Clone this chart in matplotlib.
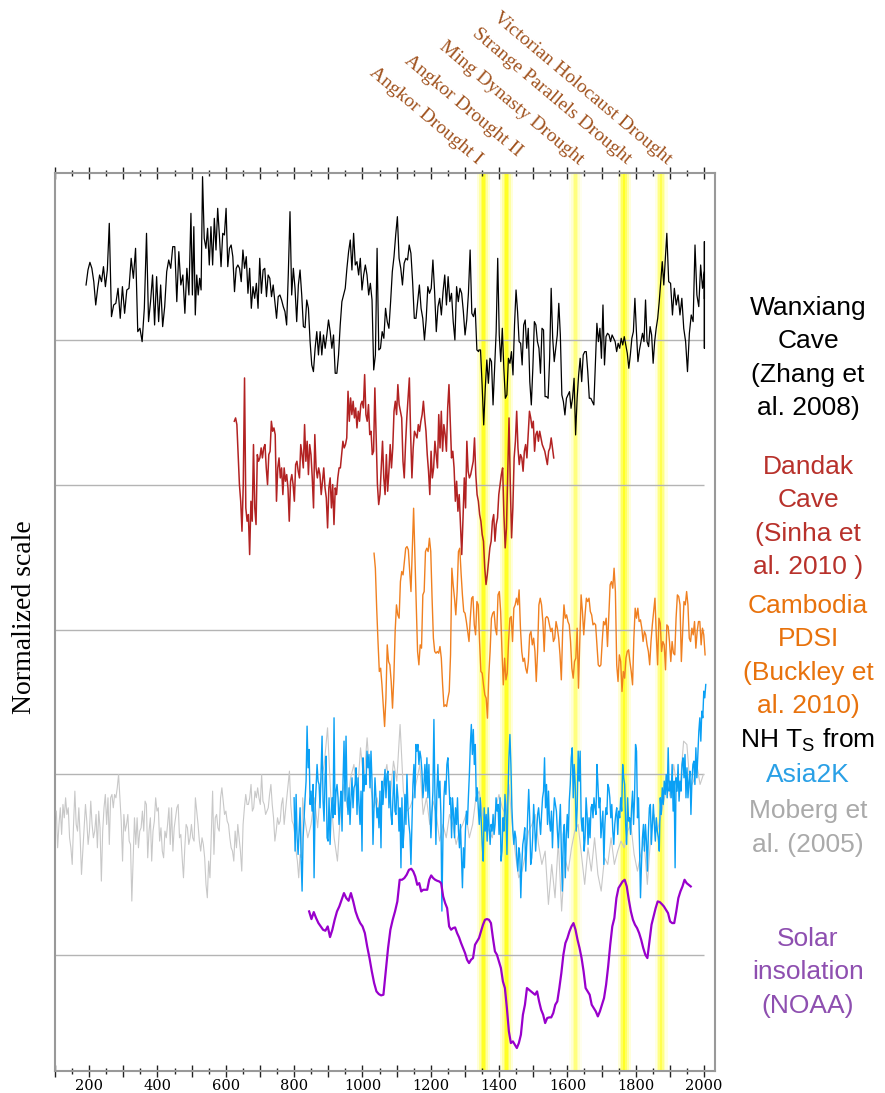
import numpy as np
import matplotlib
matplotlib.use('Agg')
import matplotlib.pyplot as plt
import matplotlib.transforms as mtransforms
from matplotlib.ticker import MultipleLocator, FuncFormatter

# --- Wanxiang Cave (Zhang et al. 2008), normalized ---
wanxiang_early = [
    1.65, 2.10, 2.33, 2.15, 1.75, 1.05, 1.55, 1.95, 1.75, 2.20,
    1.60, 2.10, 3.50, 0.70, 1.05, 1.10, 1.55, 0.65, 1.60, 0.80,
    1.50, 1.55, 2.45, 1.85, 2.75, 0.25, 0.35, -0.05, 0.95, 3.20,
    0.55, 1.15, 1.95, 0.45, 1.90, 0.55, 1.65, 0.40, 1.00, 2.05,
    2.40, 2.15, 2.80, 2.80, 1.15, 2.65, 1.65, 1.95, 0.80, 2.15,
    1.35, 3.80, 1.35, 3.40, 0.75, 1.95, 1.35, 1.85, 1.50, 4.90,
    3.05, 2.75, 3.35, 2.25, 3.40, 2.25, 3.65, 2.70, 3.95, 3.15,
    2.20, 3.20, 3.15, 3.95, 2.20, 2.75, 2.85, 2.50, 1.45, 2.15,
    2.25, 2.15, 1.75, 2.70, 2.15, 2.50, 1.40, 2.15, 0.95, 1.60,
    1.25, 1.70, 0.95, 2.45, 1.40, 2.10, 2.15, 1.30, 1.95, 1.85,
    1.30, 1.65, 1.15, 0.65, 1.30, 1.35, 1.20, 1.00, 0.85, 0.45,
    2.00, 3.85, 1.35, 2.15, 1.55, 0.55, 1.65, 2.10, 1.35, 0.40,
    0.37, 1.20, 0.95, -0.05, -0.75, -0.95, -0.25, 0.25, -0.45, 0.25,
    -0.45, 0.15, -0.25, 0.15, 0.60, 0.25, -0.25, 0.15, -1.00, -1.00,
    -0.45, 0.45, 1.15, 1.35, 1.55, 2.15, 2.65, 3.00, 2.10, 3.20,
    2.25, 2.35, 1.95, 2.45, 1.50, 1.95, 2.25, 1.95, 1.35, 1.70,
    1.20, -0.90, -0.45, 2.75, -0.30, -0.25, 0.25, 0.05, 0.95, 0.55,
    0.35, 1.15, 2.05, 2.50, 3.15, 3.70, 2.45, 2.15, 1.65, 2.30,
    2.45, 2.40, 2.85, 2.60, 1.75, 0.65, 0.65, 1.15, 1.65, 0.95,
    0.65, 0.00, 0.60, 1.60, 1.40, 1.55, 2.40, 1.45, 0.25, 1.00,
    1.25, 0.75, 1.45, 1.95, 1.05, 1.90, 1.15, 1.40, 0.55, 0.00,
    1.60, 1.15, 1.55, 1.40, 0.85, 0.15, 0.60, 1.40, 2.70, 0.80,
    0.70, 0.95, -0.30, -0.35,
]
# sample index -> year tie points
wanxiang_early_ties = ([0, 12, 29, 51, 59, 111, 161, 223],
                       [191, 259, 368, 498, 532, 788, 1033, 1340])
wanxiang_late = [
    -0.30, -0.30, -1.35, -2.55, -1.45, -0.60, -1.30, -0.55, -0.65, -1.95,
    -0.85, 0.25, 2.45, 0.15, -0.65, 0.35, -0.85, -1.75, -1.65, -0.55,
    -0.70, -0.35, -1.05, 0.45, 1.50, 0.85, -0.05, -0.10, -0.75, 0.45,
    0.60, -0.25, 0.35, -1.25, -1.95, -0.85, 0.55, 0.45, -0.05, -0.25,
    -1.00, 0.35, 0.30, -1.70, -1.70, -1.75, -0.55, 1.55, 0.05, -0.65,
    -0.25, 0.15, 1.10, 0.15, -1.65, -1.85, -2.25, -1.75, -1.65, -1.55,
    -2.05, -1.75, -1.15, -2.85, -1.75, -1.05, -0.55, -1.25, -0.45, -0.35,
    -0.35, -0.95, -1.75, -1.75, -1.85, -1.95, -0.75, 0.50, -0.05, 0.35,
    -0.55, 1.05, -0.75, 0.10, 0.20, 0.15, -0.05, 0.15, 0.05, -0.05,
    -0.35, -0.10, -0.25, 0.05, -0.15, 0.10, -0.15, -0.40, -0.85, -0.45,
    0.05, 0.25, 1.25, 0.25, -0.65, -0.30, -0.05, 0.20, -0.05, 1.20,
    -0.05, -0.20, 0.40, 0.15, -0.70, -0.05, 0.35, 0.65, 1.15, 1.75,
    2.35, 1.65, 2.40, 3.20, 1.75, 1.70, 0.75, 1.55, 1.05, 1.35,
    0.75, 1.25, 0.35, -0.05, -0.95, 0.20, 0.75, 0.55, 2.85, 1.35,
    1.00, 2.25, 1.55, 2.05, 0.75, 1.90, 2.25, 2.25, 2.95, 0.55,
    0.45, 0.55, -0.25, 1.25,
]
wanxiang_late_ties = ([0, 3, 12, 63, 123, 143],
                      [1341, 1355, 1396, 1624, 1891, 2001])

# --- Dandak Cave (Sinha et al. 2010), 625-1560 ---
dandak = [
    1.9, 2.0, 1.8, 0.9, 0.0, -0.5, -1.4, 0.0, 3.2, -0.7,
    -1.1, -0.9, -2.1, -0.5, -1.1, 1.2, -0.7, -1.2, 0.9, 0.7,
    0.8, 1.1, 0.8, 1.1, 1.2, 0.5, 0.0, 0.9, 1.0, 1.9,
    1.6, 1.7, 1.5, -0.5, 0.5, 0.8, 0.2, 0.5, -0.3, 0.5,
    0.1, 0.3, -0.1, -1.1, 0.1, 0.3, 0.0, -0.5, 0.6, 0.7,
    0.4, 0.2, 1.2, 0.9, 0.5, 1.8, 0.7, 1.3, 0.3, 1.2,
    0.9, 0.2, -0.7, 1.5, 0.5, 0.2, 0.5, 0.3, -0.3, 0.1,
    0.5, -0.1, -0.4, -1.3, -0.1, 0.2, -0.7, 0.0, -1.2, -0.1,
    -0.3, 0.2, 0.5, 0.5, 0.9, 1.3, 1.1, 1.2, 1.4, 2.8,
    1.9, 2.6, 2.1, 2.5, 2.0, 2.3, 1.7, 2.2, 1.9, 2.4,
    2.5, 2.3, 3.3, 2.1, 1.9, 2.4, 1.5, 1.6, 0.9, 1.0,
    2.9, 1.4, 0.0, -0.6, -0.3, 0.5, 1.3, 0.2, -0.3, 0.9,
    -0.2, 0.4, 1.2, 0.5, 1.1, 2.2, 2.5, 2.1, 3.0, 2.4,
    2.2, 2.0, 0.7, 0.2, 1.2, 2.0, 2.6, 3.2, 1.5, 0.2,
    1.1, 1.6, 1.5, 1.4, 1.8, 1.6, 1.9, 2.1, 2.5, 2.0,
    1.6, 0.9, 0.4, -0.3, 1.0, 0.2, 0.5, 1.3, 0.9, 0.5,
    2.1, 1.1, 2.2, 1.0, 1.8, 1.5, 1.0, 2.3, 3.0, 1.9,
    0.8, 1.0, 0.5, -0.5, 0.1, -0.8, -0.3, -1.2, -2.1, -1.0,
    0.2, -0.7, 1.3, 0.4, 0.2, 0.3, 0.5, 0.7, 1.4, 0.3,
    -0.3, -0.5, -0.9, -1.1, -1.5, -1.7, -2.5, -3.0, -2.7, -2.3,
    -1.9, -1.7, -1.1, -0.9, -1.7, -1.2, -1.0, -0.3, 0.0, 0.3,
    0.5, -0.9, -1.9, -1.3, 0.4, 2.0, 0.0, -1.6, -0.7, 0.8,
    1.3, 2.2, 1.1, 0.6, 0.9, 0.8, 0.4, 1.0, 1.2, 0.8,
    1.5, 2.2, 2.0, 1.7, 1.9, 1.0, 1.5, 1.6, 1.3, 1.6,
    1.4, 1.2, 1.1, 1.0, 0.8, 0.6, 1.0, 1.1, 1.4, 1.1,
    0.8,
]

# --- Cambodia PDSI (Buckley et al. 2010), 1034-2003 ---
cambodia = [
    2.3, 1.85, 0.65, -0.35, -1.25, -1.15, -1.65, -2.25, -2.9, -2.05,
    -0.45, -0.95, -1.05, -1.55, -2.35, -1.45, -0.05, 0.75, 0.45, 0.35,
    1.45, 1.75, 1.65, 2.05, 2.45, 2.5, 2.4, 1.75, 1.15, 2.45,
    3.65, 2.15, 0.75, -0.65, -1.05, -0.45, -0.55, 1.05, 1.15, 2.35,
    2.45, 2.35, 2.75, 2.35, 0.95, -0.25, -0.65, -0.7, -0.65, -0.7,
    -0.5, -0.85, -1.65, -2.3, -2.25, -2.3, -2.05, -1.85, -0.75, 1.85,
    1.35, 0.95, 0.45, 1.15, 2.35, 2.45, 1.7, 1.05, 0.55, 0.5,
    0.25, -0.05, -0.35, 0.35, 0.95, 1.0, 0.15, -0.15, 0.85, 0.75,
    -0.35, -1.25, -1.3, -1.65, -1.95, -2.05, -2.65, -1.35, -0.65, 0.35,
    0.5, 0.55, 0.05, -0.15, 1.05, 1.15, 0.55, -0.65, -1.65, -0.85,
    -1.5, -1.3, -0.35, 0.35, 0.4, -0.35, 0.65, 0.75, 0.95, 0.75,
    1.2, 0.05, -0.65, -0.95, -0.85, -1.15, -1.3, -0.95, -0.15, -0.05,
    -0.45, -0.25, -0.65, -1.55, -0.65, 0.75, 0.95, 0.75, 0.25, -0.65,
    0.35, 0.4, 0.35, 0.15, -0.05, 0.05, -0.35, -0.25, 0.25, 0.05,
    -0.25, -0.75, -1.5, -0.05, 0.75, 0.35, 0.45, 0.25, 0.15, -0.35,
    -1.15, -1.45, -0.95, -0.85, 0.05, -1.75, -0.35, 1.05, 0.55, -0.15,
    0.45, 0.95, 0.85, 0.95, 0.55, 0.45, 0.15, 0.2, 0.15, -0.45,
    -1.05, -1.1, -1.05, -0.35, 0.25, 0.15, 0.35, -0.5, 0.45, 1.35,
    1.45, 1.25, 1.85, 1.15, -1.05, -1.55, -0.75, -0.95, -1.85, -1.25,
    -1.45, -0.85, -0.65, -0.6, -0.95, -1.25, -1.65, -0.25, 0.65, 0.35,
    0.65, 0.25, 0.3, 0.05, -0.35, -0.05, -0.15, -0.45, -0.65, -1.05,
    -0.35, 0.15, 0.55, 0.95, -0.15, -1.05, 0.35, 0.2, -0.65, -0.35,
    -0.45, -1.2, 0.15, 0.1, -0.35, -0.95, -0.35, -0.7, -0.75, 0.35,
    1.05, 1.0, 0.75, -0.95, -0.05, 0.85, 0.75, 1.15, 0.75, -0.25,
    -0.35, 0.05, -0.15, 0.25, -0.55, -0.05, 0.25, 0.25, -0.45, 0.05,
    -0.15, -0.75,
]

# --- NH temperature, Asia2K ---
asia2k_early = [
    -0.7, -2.3, -0.6, -1.9, -2.4, -1.7, -1.0, -2.5, -3.5, -1.9,
    -1.3, -0.7, -0.2, 1.45, 0.2, 0.75, -0.9, -0.5, -1.1, -0.3,
    -3.1, -1.0, -0.4, 0.3, -0.2, -0.3, -1.0, 0.1, 1.15, -0.8,
    -1.4, -0.1, 0.55, -1.9, -2.0, -0.7, -2.1, -1.2, -0.7, -1.3,
    1.7, -1.2, -0.5, -0.3, -0.7, -1.5, -0.9, -0.5, -1.7, -0.2,
    1.0, -0.8, 1.15, -0.6, -1.2, -0.4, -1.5, -0.7, -0.1, -1.0,
    -0.4, -0.3, 0.2, -1.2, -0.1, -0.9, -1.5, -0.5, -2.3, 0.5,
    -0.5, 0.0, -0.3, 0.7, 0.2, 0.6, -0.4, 0.7, -0.2, -2.1,
    -1.0, -0.1, -0.7, -1.3, -1.0, -1.6, -0.5, -2.2, -0.2, -0.9,
    -0.4, 0.15, -0.7, 0.0, 0.1, -1.0, -0.2, -1.2, -1.5, -0.7,
    0.1, -1.1, -1.2, -0.3, -0.7, -1.7, -1.0, -2.8, -0.7, -2.2,
    -1.7, -0.6, -1.5, 0.0, -1.0, -1.5, -1.8, -2.7, -1.5, -0.3,
    0.3, -0.7, 0.9, 0.7, 0.9, 0.3, 0.7, 0.5, 0.1, -0.7,
    -0.3, 0.3, -0.5, 0.5, -0.7, 0.3, -1.0, -1.9, -1.2, -0.5,
    1.65, -0.6, -2.1, -0.5, 0.3, -0.7, -0.2, -1.2, -4.1, -2.0,
    -0.7, -0.2, -0.6, 0.3, 0.5, -0.2, -0.9,
]
asia2k_late = [
    -0.7, -1.9, -0.7, -1.2, -1.9, -1.0, -1.5, -0.7, -1.7, -2.2,
    -1.5, -2.5, -3.4, -2.2, -2.8, -1.7, -1.1, -1.5, -0.7, 0.0,
    0.9, 1.5, 0.6, 1.35, 0.3, 0.9, -0.8, -0.4, -1.0, -1.5,
    -0.7, -1.4, -2.1, -2.6, -1.0, -1.7, -1.2, -2.0, -1.0, -1.6,
    -2.1, -1.5, -1.7, -1.2, -1.8, -1.5, -0.7, -1.1, -0.9, -1.8,
    -0.7, -2.6, -2.3, -1.3, -1.7, -0.6, -1.1, -2.4, -0.7, 0.5,
    1.2, 0.3, -1.0, -1.7, -2.1, -1.7, -1.9, -2.5, -2.9, -2.2,
    -2.4, -3.7, -2.7, -2.1, -1.9, -1.6, -2.9, -2.1, -1.2, -0.45,
    -1.3, -2.7, -2.5, -1.9, -0.9, -1.5, -2.3, -1.7, -1.2, -1.0,
    -1.4, -1.8, -1.2, -0.7, -0.5, 0.5, -1.0, -0.3, -1.5, -0.5,
    -1.4, -1.7, -1.1, -2.2, -1.3, -0.7, -0.9, -1.1, -1.7, -2.2,
    -1.5, -0.9, -2.3, -3.5, -1.8, -1.5, -3.1, -1.8, -1.2, -1.9,
    -0.8, -0.3, 0.5, 0.8, -0.7, 0.3, -0.3, -1.7, -1.0, 0.7,
    -0.2, 0.7, -1.3, -1.7, -1.3, -2.3, -1.9, -0.7, -1.2, -2.1,
    -1.3, -1.9, -1.0, -0.9, -1.3, -0.7, -1.0, -1.2, 0.3, -0.3,
    -1.0, -0.7, -1.9, -1.5, -1.1, -2.7, -1.5, -1.0, -1.2, -0.3,
    -0.4, -0.7, -1.3, -0.9, -1.7, -2.1, -1.5, -1.2, -1.0, -1.8,
    -1.1, -1.3, -0.7, -1.1, 0.3, -0.1, -0.3, -1.5, -2.1, -0.7,
    -1.4, -1.3, -1.8, -1.0, -0.5, -1.5, -0.7, 0.9, 0.7, -1.3,
    -0.7, -2.1, -3.7, -2.7, -1.9, -1.5, -2.3, -1.5, -2.0, -2.9,
    -1.7, -1.0, -0.9, -2.1, -1.5, -0.9, -1.5, -2.0, -1.3, -1.7,
    -1.9, -2.3, -0.7, -1.2, -0.4, -0.9, -0.2, -0.6, 0.0, -0.7,
    0.8, -0.5, -0.2, -0.7, 0.3, -1.1, -0.2, -2.8, -0.1, -0.5,
    0.3, -0.8, -0.2, -0.5, 0.3, 0.5, -0.1, 0.6, -0.7, 0.2,
    -0.7, -0.2, 0.1, -1.2, -0.2, 0.3, 0.4, -0.3, 0.8, -0.1,
    0.6, 1.3, 1.7, 1.0, 1.9, 1.7, 2.5, 2.3, 2.7,
]

# --- Moberg et al. (2005) ---
moberg_early = [
    -1.1, -2.2, -1.5, -1.0, -1.8, -0.9, -1.3, -0.7, -1.2, -1.0,
    -1.9, -2.2, -2.7, -1.5, -0.5, -1.5, -1.7, -1.0, -1.9, -3.0,
    -2.3, -1.6, -0.9, -1.4, -2.1, -1.7, -0.8, -1.5, -1.9, -1.7,
    -1.2, -2.2, -1.1, -1.6, -3.2, -1.7, -1.0, -0.6, -1.5, -0.7,
    -2.1, -0.7, -0.6, -1.0, -0.6, -0.7, -0.4, 0.0, -0.7, -1.4,
    -2.6, -1.2, -1.7, -1.5, -1.2, -2.0, -2.1, -3.8, -2.5, -1.3,
    -2.1, -1.3, -2.2, -1.7, -1.6, -1.1, -1.7, -0.8, -0.9, -2.5,
    -1.7, -1.3, -2.6, -1.7, -1.4, -0.7, -1.1, -1.0, -2.0, -1.6,
    -2.3, -2.5, -1.7, -1.9, -1.5, -1.0, -2.1, -1.0, -2.3, -1.6,
    -1.3, -1.0, -0.9, -1.9, -1.8, -2.5, -3.1, -2.2, -1.5, -1.6,
    -2.1, -1.9, -1.5, -1.9, -2.0, -0.7, -1.1, -1.5, -2.0, -2.3,
    -1.9, -2.1, -2.5, -3.3, -3.7, -2.6, -3.1, -1.8, -0.5, -2.4,
    -1.3, -1.2, -1.6, -1.7, -0.7, -0.4, -0.8, -1.2, -1.1, -1.4,
    -1.5, -1.9, -2.2, -2.3, -2.6, -1.7, -2.2, -1.5, -1.9, -2.3,
    -2.9, -1.5, -1.0, -0.6, -0.9, -0.9, -0.7, -0.3, -1.1, -1.0,
    -0.5, -0.7, -0.4, -0.7, -0.9, 0.0, -0.8, -0.9, -1.2, -1.1,
    -1.0, -0.6, -0.3, -0.9, -1.3, -2.0, -1.7, -1.3, -1.5, -1.4,
    -0.9, -0.7, -1.5, -1.1, -0.7, -0.3, 0.1, -0.9, -1.4, -1.5,
    -1.8, -2.3, -2.6, -3.1, -2.4, -2.5, -0.7, -1.2,
]
moberg_late = [
    -1.9, -1.5, -0.7, -1.6, -0.2, 0.3, 1.4, -0.7, -1.9, -2.6,
    -1.0, -0.3, -1.0, -0.1, 0.3, -0.7, 0.8, -0.2, 1.1, -0.3,
    -1.0, -0.7, -1.3, -0.2, 0.3, -0.7, 0.4, -0.2, 1.5, -0.5,
    -1.1, -1.0, -0.7, -0.2, 0.3, -1.2, -0.7, -1.5, -0.8, -1.2,
    -2.0, -1.5, -1.9, -1.2,
    -1.5, -2.1, -1.7, -1.5, -1.2, -1.9, -1.5, -0.7, -0.5, -1.2,
    -1.5, -1.7, -1.9, -1.0, -0.6, -1.0, -1.2, -0.3, -1.5, -2.4,
    -3.1, -2.9, -2.4, -1.7, -1.5, -1.2, -2.1, -2.7, -2.3, -3.9,
    -2.7, -3.7, -2.0, -4.1, -2.5, -2.9, -2.2, -1.7, -1.5, -2.4,
    -3.3, -2.2, -2.9, -1.9, -3.0, -3.5, -2.5, -2.7, -1.9, -2.7,
    -2.3, -2.0, -2.2, -1.7, -1.5, -2.4, -2.9, -2.4, -2.0, -3.3,
    -1.9, -1.2, -1.7, -1.3, -0.8, -0.3, -0.7, 0.3, -0.4, -0.3,
    1.0, 0.9, -0.4, -0.2, 0.3, -0.3, 0.0,
]

# --- Solar insolation (NOAA) ---
solar = [
    1.32, 1.09, 1.30, 1.12, 0.97, 0.87, 0.77, 0.74, 0.87, 0.55,
    0.77, 1.07, 1.32, 1.47, 1.67, 1.87, 1.72, 1.64, 1.87, 1.62,
    1.32, 1.12, 0.97, 0.87, 0.67, 0.27, -0.08, -0.48, -0.83, -1.08,
    -1.16, -1.20, -1.18, -0.48, 0.22, 0.77, 1.07, 1.32, 1.62, 2.27,
    2.27, 2.32, 2.42, 2.57, 2.60, 2.52, 2.37, 2.12, 2.17, 1.92,
    1.97, 1.97, 1.97, 2.27, 2.40, 2.32, 2.27, 2.24, 2.22, 2.17,
    1.77, 1.57, 1.42, 0.87, 0.77, 0.82, 0.84, 0.67, 0.54, 0.37,
    0.22, 0.07, -0.13, -0.23, -0.13, -0.08, 0.32, 0.42, 0.52, 0.72,
    0.92, 1.07, 1.09, 1.07, 0.97, 0.52, 0.12, 0.02, -0.18, -0.38,
    -0.78, -0.98, -1.58, -2.28, -2.63, -2.58, -2.68, -2.78, -2.63, -2.38,
    -1.78, -1.48, -0.98, -1.03, -1.08, -1.13, -1.18, -1.08, -1.38, -1.63,
    -1.78, -2.03, -1.88, -1.86, -1.86, -1.73, -1.48, -1.38, -0.98, -0.53,
    0.02, 0.37, 0.52, 0.72, 0.87, 0.97, 0.77, 0.47, 0.22, -0.08,
    -0.48, -0.98, -1.08, -1.18, -1.48, -1.58, -1.68, -1.83, -1.68, -1.48,
    -1.28, -0.88, -0.33, 0.32, 0.87, 1.12, 1.72, 2.02, 2.12, 2.22,
    2.27, 2.07, 1.67, 1.32, 1.07, 0.92, 0.82, 0.67, 0.47, 0.22,
    0.02, -0.08, 0.42, 0.92, 1.17, 1.42, 1.62, 1.60, 1.54, 1.47,
    1.37, 1.27, 1.02, 0.97, 0.97, 1.32, 1.72, 1.92, 2.07, 2.27,
    2.17, 2.12, 2.07,
]
solar_ties = ([0, 44, 97, 135, 182], [844, 1143, 1452, 1677, 1961])

drought_years = [1354, 1422, 1624, 1766, 1874]
drought_names = ['Angkor Drought I', 'Angkor Drought II', 'Ming Dynasty Drought',
                 'Strange Parallels Drought', 'Victorian Holocaust Drought']


def tied_years(n, ties):
    return np.interp(np.arange(n), ties[0], ties[1])


# layout: where each record sits on the stacked scale
off_wan, off_dan, off_cam, off_asia, off_sol = 21.94, 17.60, 13.24, 8.90, 3.47

fig = plt.figure(figsize=(8.85, 10.93), dpi=100)
ax = fig.add_axes([0.0621, 0.0201, 0.7458, 0.8216])
ax.set_xlim(100, 2032)
ax.set_ylim(0, 26.95)

# drought bands (soft yellow glow)
band_strength = [1.0, 1.0, 0.45, 1.0, 0.7]
for c, s in zip(drought_years, band_strength):
    for half, a in [(19, 0.15), (13, 0.25), (8, 0.4), (4, 0.6)]:
        ax.axvspan(c - half, c + half, color='#ffff00', alpha=a * s, lw=0, zorder=1)

ax.hlines([off_wan, off_dan, off_cam, off_asia, off_sol], 100, 2000,
          color='#b4b4b4', lw=1, zorder=2)

wan_years = np.concatenate([tied_years(len(wanxiang_early), wanxiang_early_ties),
                            tied_years(len(wanxiang_late), wanxiang_late_ties)])
wan = np.array(wanxiang_early + wanxiang_late)
ax.plot(wan_years, wan + off_wan, color='black', lw=0.9, zorder=3)

ax.plot(np.linspace(625, 1560, len(dandak)), np.array(dandak) + off_dan,
        color='#b22222', lw=1.1, zorder=3)

ax.plot(np.linspace(1034, 2003, len(cambodia)), np.array(cambodia) + off_cam,
        color='#f08020', lw=1.0, zorder=3)

mob_years = np.concatenate([np.linspace(104, 829, len(moberg_early)),
                            np.linspace(840, 1998, len(moberg_late))])
mob = np.array(moberg_early + moberg_late)
ax.plot(mob_years, mob + off_asia, color='#c8c8c8', lw=0.8, zorder=3)

asia_years = np.concatenate([np.linspace(800, 1256, len(asia2k_early)),
                             np.linspace(1258, 2005, len(asia2k_late))])
asia = np.array(asia2k_early + asia2k_late)
ax.plot(asia_years, asia + off_asia, color='#0aa0f5', lw=1.0, zorder=4)

ax.plot(tied_years(len(solar), solar_ties), np.array(solar) + off_sol,
        color='#9900cc', lw=1.6, zorder=4)

# axes styling
for sp in ax.spines.values():
    sp.set_color('#999999')
    sp.set_linewidth(1.5)
ax.set_yticks([])
ax.xaxis.set_major_locator(MultipleLocator(100))
ax.xaxis.set_minor_locator(MultipleLocator(50))
ax.xaxis.set_major_formatter(FuncFormatter(lambda v, p: '%d' % v if int(round(v)) % 200 == 0 else ''))
ax.tick_params(which='both', direction='inout', top=True, bottom=True, color='#222222', width=1)
ax.tick_params(which='major', length=9, pad=1, labelsize=10.5)
ax.tick_params(which='minor', length=5)
for lab in ax.get_xticklabels():
    lab.set_family('DejaVu Serif')

# drought labels above the plot
trans = mtransforms.blended_transform_factory(ax.transData, ax.transAxes)
label_x = [1336, 1452, 1633, 1773, 1890]
label_y = [1.009, 1.018, 1.009, 1.009, 1.009]
for name, lx, ly in zip(drought_names, label_x, label_y):
    ax.text(lx, ly, name, transform=trans, rotation=-40, rotation_mode='anchor',
            ha='right', va='baseline', fontsize=14, family='Liberation Serif',
            color='#a0521e', clip_on=False)

fig.text(25 / 885, 0.4355, 'Normalized scale', rotation=90, ha='center', va='center',
         fontsize=20, family='Liberation Serif')

# right-hand legend text
lx = 0.913
kw = dict(ha='center', va='center', fontsize=19, family='Liberation Sans', linespacing=1.5)
fig.text(lx, 0.6725, 'Wanxiang\nCave\n(Zhang et\nal. 2008)', color='black', **kw)
fig.text(lx, 0.527, 'Dandak\nCave\n(Sinha et\nal. 2010 )', color='#b8312b', **kw)
fig.text(lx, 0.4, 'Cambodia\nPDSI\n(Buckley et\nal. 2010)', color='#e8720c', **kw)
fig.text(lx, 0.323, r'NH T$_{\mathregular{S}}$ from', color='black', **kw)
fig.text(lx, 0.291, 'Asia2K', color='#2aa0e6', **kw)
fig.text(lx, 0.2425, 'Moberg et\nal. (2005)', color='#aaaaaa', **kw)
fig.text(lx, 0.1107, 'Solar\ninsolation\n(NOAA)', color='#8e4fb0', **kw)

fig.savefig('out.png', dpi=100)
